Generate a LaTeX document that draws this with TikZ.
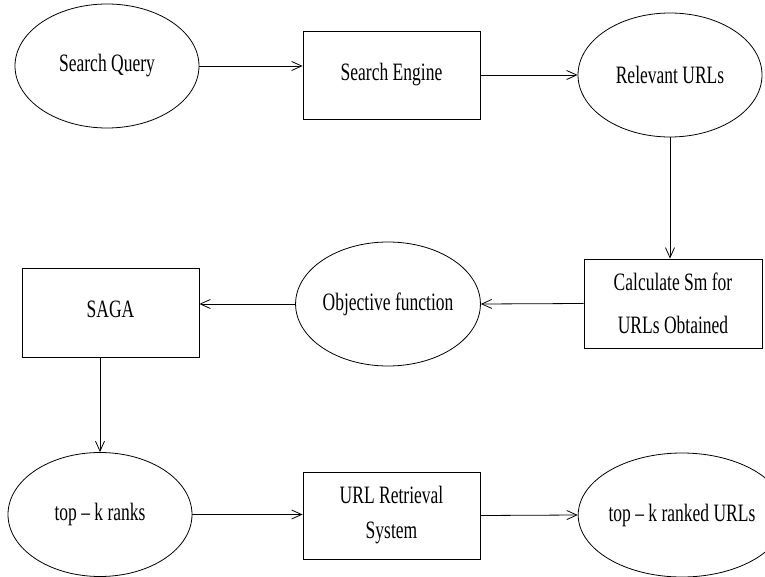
\documentclass[tikz,border=0pt]{standalone}
\usepackage{fontspec}
\setmainfont[FakeStretch=0.70]{Liberation Serif}
\usetikzlibrary{shapes.geometric, arrows.meta, positioning}

\begin{document}
\begin{tikzpicture}
		[x=1pt, y=-1pt,
		font=\fontsize{25}{30}\selectfont,
		line width=0.8pt,
		>={Straight Barb[length=10pt,width=9pt]},
		e/.style = {draw=black, ellipse, minimum width=184pt, minimum height=124pt, inner sep=0pt},
		b/.style = {draw=black, rectangle, minimum width=177pt, minimum height=88pt, inner sep=0pt, align=center}]
		
		\useasboundingbox (0,0) rectangle (765,577);
		
		\foreach \x/\y/\alph/\name in {
			107/66/sq/Search Query,
			670/75/ru/Relevant URLs,
			388/304/obj/Objective function,
			100/514.5/topk/top -- k ranks,
			682/515/tkr/top -- k ranked URLs}{
			\node[e] (\alph) at (\x,\y) {\name};
		}
		
		\node[b] (se) at (391.5,75) {Search Engine};
		\node[b, minimum height=89pt, minimum width=178pt] (calc) at (673,303.5) {Calculate Sm for\\[13pt]URLs Obtained};
		\node[b, minimum height=89pt] (saga) at (110.5,312.5) {\raisebox{7pt}{SAGA}};
		\node[b, minimum height=87pt] (urs) at (391.5,515.5) {URL Retrieval\\[5pt]System};
		
		\draw[->] (sq.east) -- (sq.east -| se.west);
		\draw[->] (se.east) -- (ru.west);
		\draw[->] (ru.south) -- (ru.south |- calc.north);
		\draw[->] (calc.west) -- (obj.east);
		\draw[->] (obj.west) -- (obj.west -| saga.east);
		\draw[->] (topk.north |- saga.south) -- (topk.north);
		\draw[->] (topk.east) -- (topk.east -| urs.west);
		\draw[->] (urs.east) -- (tkr.west);
	\end{tikzpicture}
\end{document}
